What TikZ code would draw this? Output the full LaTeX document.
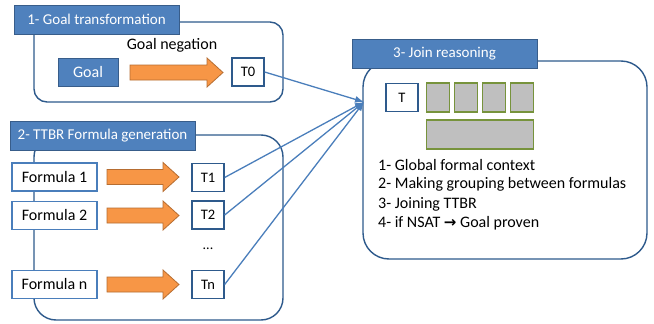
\documentclass[tikz,border=0pt]{standalone}
\usepackage{fontspec}
\setmainfont{Carlito}
\newfontfamily\symfont{DejaVu Sans}
\usetikzlibrary{arrows.meta}
\definecolor{hdrfill}{HTML}{4F81BD}
\definecolor{hdrline}{HTML}{385D8A}
\definecolor{boxline}{HTML}{2E5A8C}
\definecolor{linkblue}{HTML}{4A7EBB}
\definecolor{arrfill}{HTML}{F79646}
\definecolor{arrline}{HTML}{B66D31}
\definecolor{cellfill}{HTML}{BFBFBF}
\definecolor{cellline}{HTML}{77933C}
% block arrow from x=#1 to x=#2 centred on y=#3
\newcommand\blockarrow[3]{%
  \draw[fatarrow] (#1,#3-7.5) -- (#2-16,#3-7.5) -- (#2-16,#3-14.5) -- (#2,#3)
    -- (#2-16,#3+14.5) -- (#2-16,#3+7.5) -- (#1,#3+7.5) -- cycle;}
\begin{document}
\begin{tikzpicture}[x=1pt,y=-1pt,
  font=\fontsize{16}{19}\selectfont,
  stagebox/.style={draw=boxline,line width=1.4pt,fill=white},
  header/.style={draw=hdrline,line width=1pt,fill=hdrfill,text=white,
    minimum height=29pt,inner sep=0pt,font=\fontsize{15}{18}\selectfont},
  goalbox/.style={draw=hdrline,line width=1pt,fill=hdrfill,text=white,
    minimum width=60pt,minimum height=28pt,inner sep=0pt},
  tbox/.style={draw=boxline,line width=1.3pt,fill=white,
    minimum width=32pt,minimum height=28pt,inner sep=0pt,
    font=\fontsize{14.5}{17}\selectfont},
  formbox/.style={draw=linkblue,line width=1.3pt,fill=white,
    minimum width=85pt,minimum height=28pt,inner sep=0pt},
  fatarrow/.style={draw=arrline,line width=0.8pt,fill=arrfill,line join=miter},
  cell/.style={draw=cellline,line width=1.3pt,fill=cellfill,inner sep=0pt},
  link/.style={draw=linkblue,line width=1.3pt,-{Latex[length=9pt,width=7pt]}},
  step text/.style={anchor=west,inner sep=0pt}
]
\useasboundingbox (0,0) rectangle (654,324);

% Stage 1: goal transformation
\draw[stagebox,rounded corners=13pt] (34,22) rectangle (283,102);
\node[header,minimum width=165pt] (h1) at (96.5,19.5) {1- Goal transformation};
\node (neg) at (172,45) {Goal negation};
\node[goalbox] (goal) at (88,72) {Goal};
\blockarrow{130}{223}{72.5}
\node[tbox] (t0) at (248,72) {T0};

% Stage 2: TTBR formula generation
\draw[stagebox,rounded corners=22pt] (34,135) rectangle (283,320);
\node[header,minimum width=185pt] (h2) at (102.5,136) {2- TTBR Formula generation};
\node[formbox] (f1) at (54.5,177) {Formula 1};
\node[formbox] (f2) at (54.5,215.5) {Formula 2};
\node[formbox] (fn) at (54.5,284.5) {Formula n};
\blockarrow{107}{179}{177}
\blockarrow{107}{179}{215.5}
\blockarrow{107}{179}{284.5}
\node[tbox] (t1) at (208,177.5) {T1};
\node[tbox] (t2) at (208,215) {T2};
\node[tbox] (tn) at (208,284.5) {Tn};
\node[font=\fontsize{14}{17}\selectfont] (dots) at (208,249) {...};

% Stage 3: join reasoning
\draw[stagebox,rounded corners=26pt] (363,61) rectangle (647,259);
\node[header,minimum width=185pt] (h3) at (444.5,53.5) {3- Join reasoning};
\node[tbox] (t) at (402,97.5) {T};
\node[cell,minimum width=23pt,minimum height=29pt] (c1) at (438,97.5) {};
\node[cell,minimum width=23pt,minimum height=29pt] (c2) at (466,97.5) {};
\node[cell,minimum width=23pt,minimum height=29pt] (c3) at (494,97.5) {};
\node[cell,minimum width=23pt,minimum height=29pt] (c4) at (522,97.5) {};
\node[cell,minimum width=107pt,minimum height=29pt] (cg) at (480,134.5) {};
\node[step text] (s1) at (378,165) {1- Global formal context};
\node[step text] (s2) at (378,184.5) {2- Making grouping between formulas};
\node[step text] (s3) at (378,204) {3- Joining TTBR};
\node[step text] (s4) at (378,223) {4- if NSAT {\symfont\fontsize{15}{17}\selectfont\bfseries→} Goal proven};

% Every T feeds the join stage
\coordinate (join) at (364,102);
\draw[link] (t0.east) -- (join);
\draw[link] (t1.east) -- (join);
\draw[link] (t2.east) -- (join);
\draw[link] (tn.east) -- (join);
\end{tikzpicture}
\end{document}
